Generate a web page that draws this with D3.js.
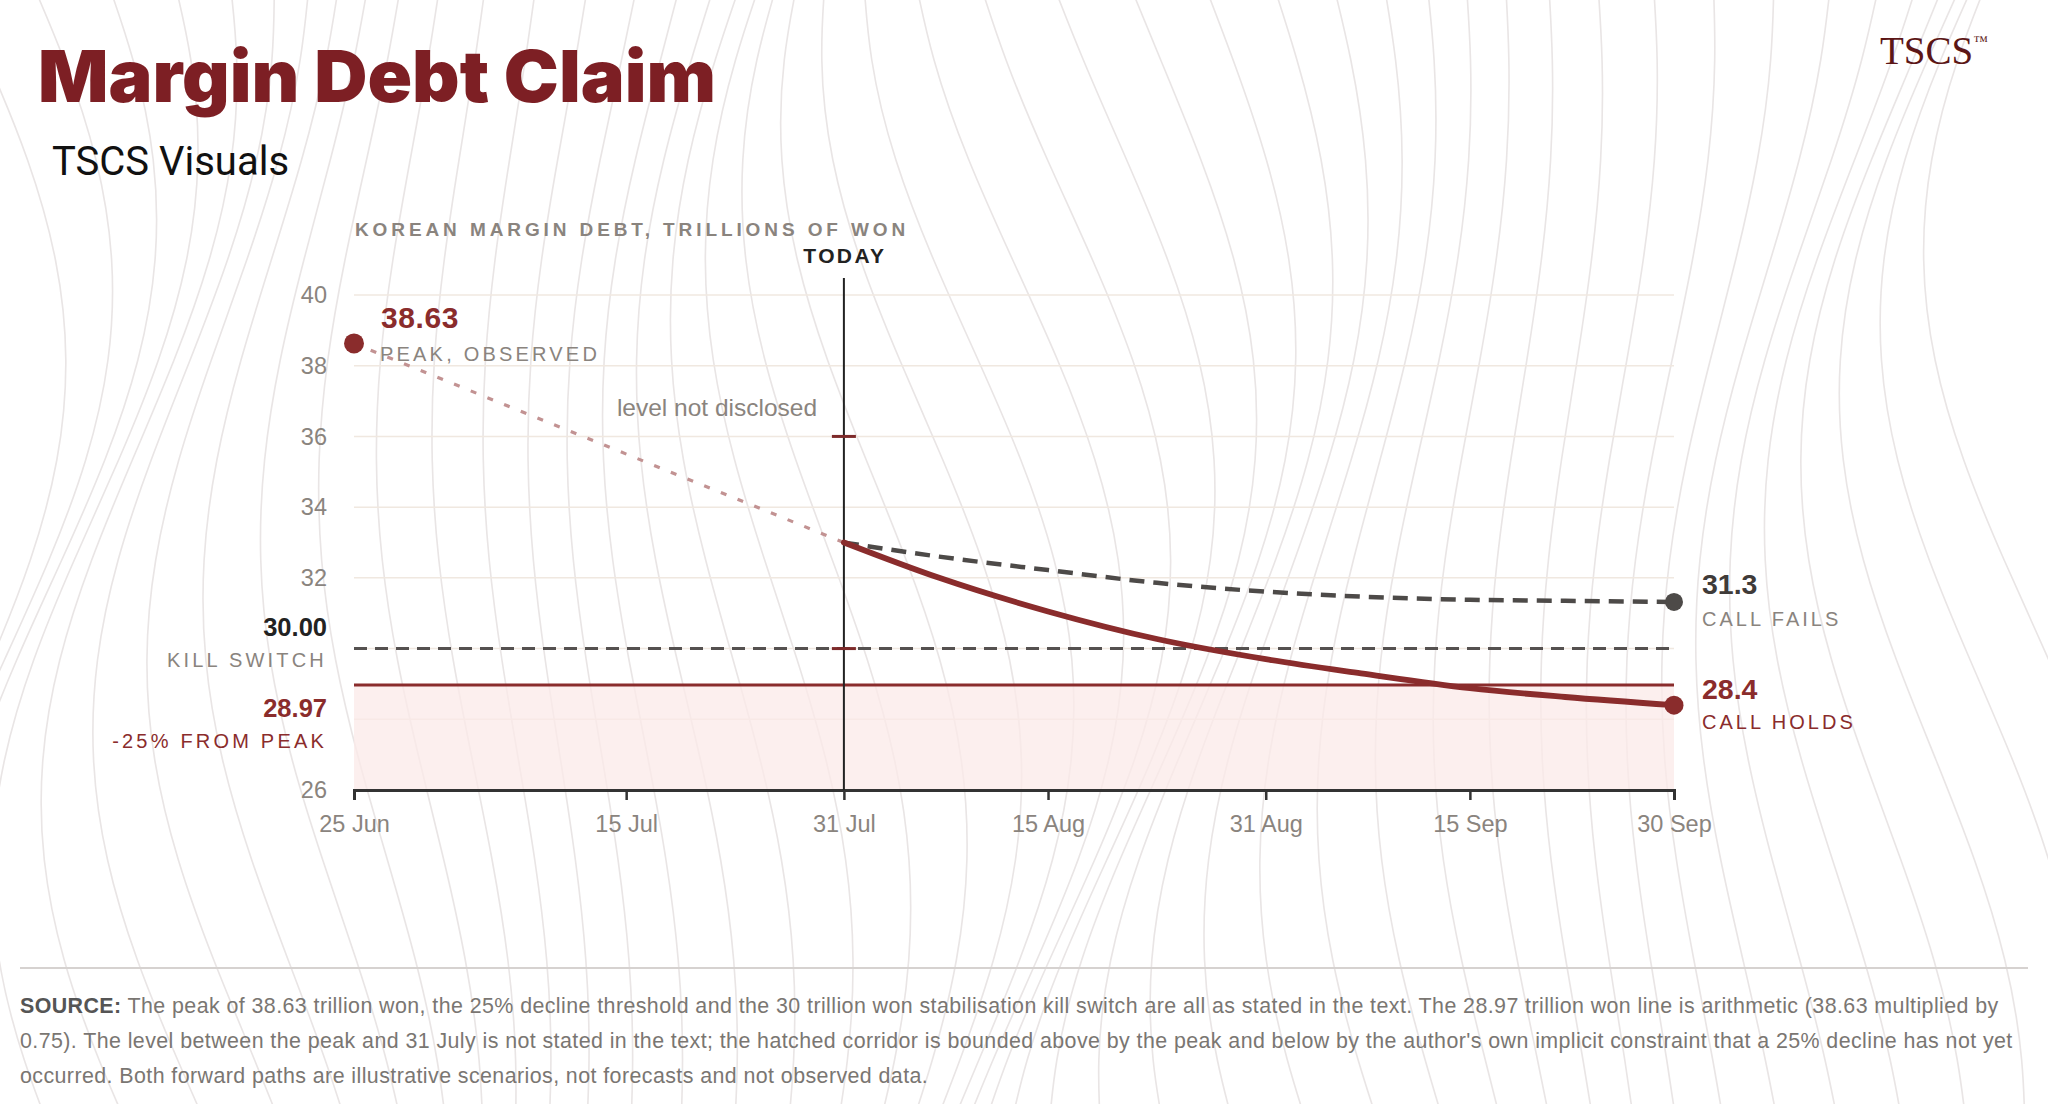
<!DOCTYPE html>
<html>
<head>
<meta charset="utf-8">
<script src="https://cdn.jsdelivr.net/npm/d3@7"></script>
<style>
  html, body { margin: 0; padding: 0; background: #ffffff; }
  svg { display: block; }
</style>
</head>
<body>
<svg id="chart" width="2048" height="1104"></svg>
<script>
// ---------------- DATA ----------------
const xTickDates  = ["2025-06-25","2025-07-15","2025-07-31","2025-08-15","2025-08-31","2025-09-15","2025-09-30"];
const xTickLabels = ["25 Jun","15 Jul","31 Jul","15 Aug","31 Aug","15 Sep","30 Sep"];
const yGridValues = [26, 28, 30, 32, 34, 36, 38, 40];
const yTickLabels = [26, 32, 34, 36, 38, 40];

const peakDate = "2025-06-25";
const peakValue = 38.63;
const todayDate = "2025-07-31";
const todayValue = 33.0;

const undisclosedDates  = ["2025-06-25", "2025-07-31"];
const undisclosedValues = [38.63, 33.0];

const scenarioDates = ["2025-07-31","2025-08-07","2025-08-15","2025-08-23","2025-08-31","2025-09-07","2025-09-15","2025-09-22","2025-09-30"];
const callHoldsValues = [33.0, 32.0, 31.05, 30.27, 29.7, 29.3, 28.88, 28.63, 28.4];
const callFailsValues = [33.0, 32.6, 32.22, 31.86, 31.61, 31.47, 31.38, 31.35, 31.32];

const killSwitchValue = 30.0;
const thresholdValue = 28.97;
const corridorBar = [30, 36];

const sourceLines = [
  " The peak of 38.63 trillion won, the 25% decline threshold and the 30 trillion won stabilisation kill switch are all as stated in the text. The 28.97 trillion won line is arithmetic (38.63 multiplied by",
  "0.75). The level between the peak and 31 July is not stated in the text; the hatched corridor is bounded above by the peak and below by the author's own implicit constraint that a 25% decline has not yet",
  "occurred. Both forward paths are illustrative scenarios, not forecasts and not observed data."
];

// ---------------- SETUP ----------------
const parse = d3.utcParse("%Y-%m-%d");
const svg = d3.select("#chart");
const RED = "#8a2c2c", DARK = "#222222", GREY = "#8a847e", DGREY = "#4d4a48";
const SANS = "'Liberation Sans', Arial, Helvetica, sans-serif";

// ---- decorative background texture (contour-like lines, not data) ----
const bg = svg.append("g").attr("fill", "none").attr("stroke", "#e4dfdf").attr("stroke-width", 1.6).attr("opacity", 0.8);
const vline = d3.line().curve(d3.curveBasis);
d3.range(0, 46).forEach(i => {
  const x0 = -40 + i * 46;
  const pts = d3.range(0, 13).map(k => {
    const yy = -40 + k * 100;
    const bend = 70 * Math.sin((yy / 1104) * Math.PI * 1.6 + i * 0.22) + 40 * Math.sin(i * 0.5 + yy / 260);
    return [x0 + bend, yy];
  });
  bg.append("path").attr("d", vline(pts));
});

// ---------------- SCALES ----------------
const x = d3.scaleUtc().domain([parse("2025-06-25"), parse("2025-09-30")]).range([354, 1674]);
const y = d3.scaleLinear().domain([26, 40]).range([790, 295]);

// ---------------- HEADER ----------------
svg.append("text").attr("x", 38).attr("y", 102)
  .attr("font-family", "Inter, Roboto, 'Noto Sans', sans-serif").attr("font-weight", 900)
  .attr("font-size", 72).attr("fill", "#7d1f24")
  .attr("textLength", 678).attr("lengthAdjust", "spacingAndGlyphs")
  .text("Margin Debt Claim");

svg.append("text").attr("x", 52).attr("y", 175)
  .attr("font-family", "Roboto, 'Noto Sans', sans-serif").attr("font-weight", 400)
  .attr("font-size", 40).attr("fill", "#111").text("TSCS Visuals");

const logo = svg.append("text").attr("x", 1880).attr("y", 64)
  .attr("font-family", "'Liberation Serif', 'DejaVu Serif', serif")
  .attr("font-size", 39).attr("fill", "#5c1616");
logo.append("tspan").text("TSCS");
logo.append("tspan").attr("font-size", 15).attr("dy", -18).text("™");

// axis title
svg.append("text").attr("x", 355).attr("y", 236)
  .attr("font-family", SANS).attr("font-weight", 700).attr("font-size", 19)
  .attr("letter-spacing", 3.9).attr("fill", GREY)
  .text("KOREAN MARGIN DEBT, TRILLIONS OF WON");

// ---------------- GRID ----------------
svg.append("g").selectAll("line").data(yGridValues).join("line")
  .attr("x1", x.range()[0]).attr("x2", x.range()[1])
  .attr("y1", d => y(d)).attr("y2", d => y(d))
  .attr("stroke", "#f0e8e0").attr("stroke-width", 1.5);

// pink zone below threshold
svg.append("rect")
  .attr("x", x.range()[0]).attr("width", x.range()[1] - x.range()[0])
  .attr("y", y(thresholdValue)).attr("height", y(26) - y(thresholdValue))
  .attr("fill", "#fbe9e8").attr("opacity", 0.75);

// y tick labels
svg.append("g").selectAll("text").data(yTickLabels).join("text")
  .attr("x", 327).attr("y", d => y(d)).attr("dy", "0.35em")
  .attr("text-anchor", "end").attr("font-family", SANS).attr("font-size", 23.5)
  .attr("fill", GREY).text(d => d);

// kill switch line
svg.append("line")
  .attr("x1", x.range()[0]).attr("x2", x.range()[1])
  .attr("y1", y(killSwitchValue)).attr("y2", y(killSwitchValue))
  .attr("stroke", "#555150").attr("stroke-width", 3).attr("stroke-dasharray", "13 8");

// threshold line
svg.append("line")
  .attr("x1", x.range()[0]).attr("x2", x.range()[1])
  .attr("y1", y(thresholdValue)).attr("y2", y(thresholdValue))
  .attr("stroke", RED).attr("stroke-width", 3.2);

// ---------------- X AXIS ----------------
const xAxis = d3.axisBottom(x)
  .tickValues(xTickDates.map(parse))
  .tickFormat((d, i) => xTickLabels[i])
  .tickSize(10).tickPadding(15);
const gx = svg.append("g").attr("transform", `translate(0,${y(26)})`).call(xAxis);
gx.select(".domain").attr("stroke", "#333").attr("stroke-width", 3);
gx.selectAll(".tick line").attr("stroke", "#333").attr("stroke-width", 2.5);
gx.selectAll(".tick text").attr("font-family", SANS).attr("font-size", 23.5).attr("fill", GREY);

// ---------------- TODAY ----------------
const xt = x(parse(todayDate));
svg.append("line").attr("x1", xt).attr("x2", xt).attr("y1", 278).attr("y2", y(26))
  .attr("stroke", DARK).attr("stroke-width", 2);
svg.append("text").attr("x", xt + 1).attr("y", 263).attr("text-anchor", "middle")
  .attr("font-family", SANS).attr("font-weight", 700).attr("font-size", 21)
  .attr("letter-spacing", 2.4).attr("fill", DARK).text("TODAY");

// corridor caps
svg.append("g").selectAll("line").data(corridorBar).join("line")
  .attr("x1", xt - 12).attr("x2", xt + 12)
  .attr("y1", d => y(d)).attr("y2", d => y(d))
  .attr("stroke", "#7d2a2a").attr("stroke-width", 3);

// ---------------- PATHS ----------------
const line = d3.line().x(d => x(d[0])).y(d => y(d[1]));

// undisclosed dotted path
svg.append("path")
  .datum(undisclosedDates.map((d, i) => [parse(d), undisclosedValues[i]]))
  .attr("d", line).attr("fill", "none")
  .attr("stroke", "#c29292").attr("stroke-width", 3.2).attr("stroke-dasharray", "6 12");

svg.append("text").attr("x", 717).attr("y", 416).attr("text-anchor", "middle")
  .attr("font-family", SANS).attr("font-size", 24.5).attr("fill", GREY).text("level not disclosed");

const smooth = d3.line().x(d => x(d[0])).y(d => y(d[1])).curve(d3.curveMonotoneX);

// call fails (dashed)
svg.append("path")
  .datum(scenarioDates.map((d, i) => [parse(d), callFailsValues[i]]))
  .attr("d", smooth).attr("fill", "none")
  .attr("stroke", DGREY).attr("stroke-width", 4.5).attr("stroke-dasharray", "15 9");

// call holds (solid)
svg.append("path")
  .datum(scenarioDates.map((d, i) => [parse(d), callHoldsValues[i]]))
  .attr("d", smooth).attr("fill", "none")
  .attr("stroke", RED).attr("stroke-width", 5.8).attr("stroke-linecap", "round");

// dots
const last = scenarioDates.length - 1;
svg.append("circle").attr("cx", x(parse(peakDate))).attr("cy", y(peakValue)).attr("r", 10).attr("fill", RED);
svg.append("circle").attr("cx", x(parse(scenarioDates[last]))).attr("cy", y(callFailsValues[last])).attr("r", 9).attr("fill", DGREY);
svg.append("circle").attr("cx", x(parse(scenarioDates[last]))).attr("cy", y(callHoldsValues[last])).attr("r", 9.5).attr("fill", RED);

// ---------------- LABELS ----------------
function label(xp, yp, txt, opts) {
  svg.append("text").attr("x", xp).attr("y", yp)
    .attr("text-anchor", opts.anchor || "start")
    .attr("font-family", SANS).attr("font-weight", opts.bold ? 700 : 400)
    .attr("font-size", opts.size).attr("letter-spacing", opts.ls || 0)
    .attr("fill", opts.fill).text(txt);
}
// peak
label(381, 328, peakValue.toFixed(2), {bold: true, size: 30, ls: 0.6, fill: RED});
label(380, 361, "PEAK, OBSERVED", {size: 20, ls: 3.2, fill: GREY});
// right end
label(1702, 594, String(callFailsValues[last].toFixed(1)), {bold: true, size: 28.5, fill: "#3f3b39"});
label(1702, 626, "CALL FAILS", {size: 20, ls: 3, fill: GREY});
label(1702, 699, String(callHoldsValues[last].toFixed(1)), {bold: true, size: 28.5, fill: RED});
label(1702, 729, "CALL HOLDS", {size: 20, ls: 3, fill: RED});
// left threshold labels
label(327, 636, killSwitchValue.toFixed(2), {bold: true, size: 25.5, fill: DARK, anchor: "end"});
label(327, 667, "KILL SWITCH", {size: 20, ls: 3.2, fill: GREY, anchor: "end"});
label(327, 717, thresholdValue.toFixed(2), {bold: true, size: 25.5, fill: RED, anchor: "end"});
label(327, 748, "-25% FROM PEAK", {size: 20, ls: 3.2, fill: RED, anchor: "end"});

// ---------------- SOURCE ----------------
svg.append("line").attr("x1", 20).attr("x2", 2028).attr("y1", 968).attr("y2", 968)
  .attr("stroke", "#d6d2d0").attr("stroke-width", 2);

const src = svg.append("g").attr("font-family", SANS).attr("font-size", 21.4)
  .attr("letter-spacing", 0.42).attr("fill", "#7a7672");
sourceLines.forEach((s, i) => {
  const t = src.append("text").attr("x", 20).attr("y", 1013 + i * 35);
  if (i === 0) t.append("tspan").attr("font-weight", 700).attr("fill", "#555").text("SOURCE:");
  t.append("tspan").text(s);
});
</script>
</body>
</html>
